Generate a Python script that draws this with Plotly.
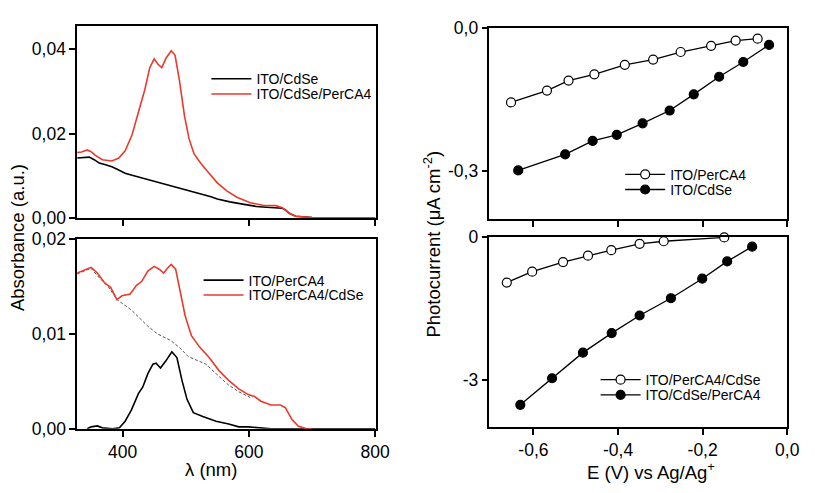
import plotly.graph_objects as go

# ---------------- data ----------------
# Top-left: absorbance spectra
wl_cdse = [328, 340, 347, 355, 363, 373, 383, 393, 404, 415, 425, 436, 446, 456, 466, 477, 487,
           498, 508, 518, 529, 540, 550, 560, 570, 581, 591, 602, 612, 622, 633, 643, 653, 658,
           664, 674, 690, 700, 750, 800]
abs_cdse = [0.0142, 0.0143, 0.0144, 0.0138, 0.0130, 0.0126, 0.0121, 0.0114, 0.0106, 0.0101, 0.0097,
            0.0093, 0.0089, 0.0085, 0.0081, 0.0077, 0.0072, 0.0068, 0.0063, 0.0060, 0.0056, 0.0050,
            0.0045, 0.0041, 0.0038, 0.0035, 0.0032, 0.0029, 0.0027, 0.0026, 0.0025, 0.0024, 0.0023,
            0.0019, 0.0011, 0.0004, 0.0002, 0.0001, 0.0000, 0.0000]

wl_cdse_perca4 = [328, 335, 344, 350, 357, 368, 383, 394, 404, 415, 427, 435, 443, 450, 456, 462,
                  469, 477, 483, 490, 498, 505, 513, 524, 537, 550, 565, 581, 602, 622, 643, 653,
                  664, 674, 700, 750, 800]
abs_cdse_perca4 = [0.0155, 0.0156, 0.0161, 0.0157, 0.0148, 0.0138, 0.0135, 0.0142, 0.0159, 0.0197,
                   0.0261, 0.0303, 0.0356, 0.0377, 0.0364, 0.0356, 0.0379, 0.0396, 0.0386, 0.0326,
                   0.0242, 0.0189, 0.0152, 0.0129, 0.0106, 0.0083, 0.0064, 0.0049, 0.0036, 0.0030,
                   0.0029, 0.0024, 0.0011, 0.0004, 0.0001, 0.0000, 0.0000]

# Bottom-left
wl_perca4 = [344, 350, 360, 368, 384, 395, 404, 414, 425, 432, 440, 448, 453, 460, 468, 478, 486,
             494, 502, 512, 527, 548, 568, 584, 599, 614, 635, 700, 800]
abs_perca4 = [0.0000, 0.0002, 0.0003, 0.0001, 0.0000, 0.0001, 0.0008, 0.0020, 0.0037, 0.0044,
              0.0058, 0.0068, 0.0069, 0.0064, 0.0071, 0.0081, 0.0075, 0.0051, 0.0031, 0.0017,
              0.0013, 0.0008, 0.0005, 0.0002, 0.0002, 0.0001, 0.0000, 0.0000, 0.0000]

wl_perca4_cdse = [328, 343, 350, 360, 371, 381, 391, 399, 412, 422, 430, 440, 450, 458, 465, 471,
                  477, 484, 490, 499, 509, 522, 537, 553, 568, 584, 599, 609, 619, 635, 650, 658,
                  668, 678, 691, 700]
abs_perca4_cdse = [0.0164, 0.0168, 0.0170, 0.0164, 0.0154, 0.0149, 0.0136, 0.0140, 0.0142, 0.0151,
                   0.0155, 0.0166, 0.0171, 0.0168, 0.0164, 0.0169, 0.0173, 0.0168, 0.0147, 0.0119,
                   0.0098, 0.0086, 0.0075, 0.0061, 0.0051, 0.0042, 0.0036, 0.0034, 0.0029, 0.0025,
                   0.0025, 0.0022, 0.0010, 0.0003, 0.0000, 0.0000]

wl_diff = [328, 350, 363, 378, 391, 414, 440, 455, 476, 491, 504, 522, 532, 548, 568, 584, 602]
abs_diff = [0.0163, 0.0169, 0.0159, 0.0149, 0.0136, 0.0125, 0.0108, 0.0100, 0.0093, 0.0085, 0.0076,
            0.0071, 0.0068, 0.0058, 0.0046, 0.0039, 0.0033]

# Top-right: photocurrent
e_perca4 = [-0.653, -0.568, -0.517, -0.456, -0.384, -0.317, -0.252, -0.180, -0.122, -0.070]
i_perca4 = [-0.156, -0.131, -0.110, -0.097, -0.077, -0.066, -0.050, -0.037, -0.026, -0.022]
e_cdse = [-0.636, -0.525, -0.460, -0.403, -0.342, -0.278, -0.221, -0.161, -0.104, -0.043]
i_cdse = [-0.299, -0.265, -0.237, -0.224, -0.200, -0.173, -0.139, -0.102, -0.071, -0.035]

# Bottom-right
e_perca4_cdse = [-0.663, -0.603, -0.530, -0.471, -0.416, -0.349, -0.292, -0.149]
i_perca4_cdse = [-0.953, -0.725, -0.523, -0.389, -0.275, -0.141, -0.087, -0.007]
e_cdse_perca4 = [-0.631, -0.556, -0.483, -0.415, -0.349, -0.275, -0.201, -0.142, -0.083]
i_cdse_perca4 = [-3.517, -2.960, -2.423, -2.013, -1.644, -1.282, -0.872, -0.510, -0.201]

# tick labels
abs_top_ticks = [0, 0.02, 0.04]
abs_top_labels = ["0,00", "0,02", "0,04"]
abs_bot_ticks = [0, 0.01, 0.02]
abs_bot_labels = ["0,00", "0,01", "0,02"]
wl_ticks = [400, 600, 800]
e_ticks = [-0.6, -0.4, -0.2, 0.0]
e_labels = ["-0,6", "-0,4", "-0,2", "0,0"]
pc_top_ticks = [0, -0.3]
pc_top_labels = ["0,0", "-0,3"]
pc_bot_ticks = [0, -3]
pc_bot_labels = ["0", "-3"]

# ---------------- figure ----------------
W, H = 815, 493
RED = "#ea3a2c"
FONT = "Liberation Sans, Arial, sans-serif"


def px_x(p):
    return p / W


def px_y(p):
    return 1 - p / H


fig = go.Figure()

LW = 1.6
fig.add_trace(go.Scatter(x=wl_cdse, y=abs_cdse, mode="lines", name="ITO/CdSe",
                         line=dict(color="black", width=LW), xaxis="x", yaxis="y", legend="legend"))
fig.add_trace(go.Scatter(x=wl_cdse_perca4, y=abs_cdse_perca4, mode="lines", name="ITO/CdSe/PerCA4",
                         line=dict(color=RED, width=LW), xaxis="x", yaxis="y", legend="legend2"))

fig.add_trace(go.Scatter(x=wl_diff, y=abs_diff, mode="lines", showlegend=False,
                         line=dict(color="#555555", width=1, dash="3px,2px"), xaxis="x2", yaxis="y2"))
fig.add_trace(go.Scatter(x=wl_perca4, y=abs_perca4, mode="lines", name="ITO/PerCA4",
                         line=dict(color="black", width=LW), xaxis="x2", yaxis="y2", legend="legend3"))
fig.add_trace(go.Scatter(x=wl_perca4_cdse, y=abs_perca4_cdse, mode="lines", name="ITO/PerCA4/CdSe",
                         line=dict(color=RED, width=LW), xaxis="x2", yaxis="y2", legend="legend4"))

open_marker = dict(symbol="circle", size=9, color="white", line=dict(color="black", width=1.2))
filled_marker = dict(symbol="circle", size=9, color="black", line=dict(color="black", width=1.2))

fig.add_trace(go.Scatter(x=e_perca4, y=i_perca4, mode="lines+markers", name="ITO/PerCA4",
                         line=dict(color="black", width=1.3), marker=open_marker, cliponaxis=False,
                         xaxis="x3", yaxis="y3", legend="legend5"))
fig.add_trace(go.Scatter(x=e_cdse, y=i_cdse, mode="lines+markers", name="ITO/CdSe",
                         line=dict(color="black", width=1.3), marker=filled_marker, cliponaxis=False,
                         xaxis="x3", yaxis="y3", legend="legend6"))

fig.add_trace(go.Scatter(x=e_perca4_cdse, y=i_perca4_cdse, mode="lines+markers", name="ITO/PerCA4/CdSe",
                         line=dict(color="black", width=1.3), marker=open_marker, cliponaxis=False,
                         xaxis="x4", yaxis="y4", legend="legend7"))
fig.add_trace(go.Scatter(x=e_cdse_perca4, y=i_cdse_perca4, mode="lines+markers", name="ITO/CdSe/PerCA4",
                         line=dict(color="black", width=1.3), marker=filled_marker, cliponaxis=False,
                         xaxis="x4", yaxis="y4", legend="legend8"))

axis_common = dict(showline=True, linecolor="black", linewidth=1.5, mirror=True, showgrid=False,
                   zeroline=False, ticks="outside", ticklen=6, tickwidth=1.5, tickcolor="black",
                   tickfont=dict(family=FONT, size=17.5, color="black"))

left_dom = [px_x(78.5), px_x(383)]
right_dom = [px_x(498), px_x(801)]

fig.update_layout(
    width=W, height=H,
    margin=dict(l=0, r=0, t=0, b=0),
    paper_bgcolor="white", plot_bgcolor="white",
    font=dict(family=FONT, color="black"),
    xaxis=dict(axis_common, domain=left_dom, anchor="y", range=[328, 802],
               tickvals=wl_ticks, showticklabels=False),
    yaxis=dict(axis_common, domain=[px_y(216.7), px_y(17)], anchor="x", range=[0, 0.0454],
               tickvals=abs_top_ticks, ticktext=abs_top_labels),
    xaxis2=dict(axis_common, domain=left_dom, anchor="y2", range=[328, 802],
                tickvals=wl_ticks, ticktext=[str(v) for v in wl_ticks]),
    yaxis2=dict(axis_common, domain=[px_y(436.5), px_y(238.5)], anchor="x2", range=[0, 0.02],
                tickvals=abs_bot_ticks, ticktext=abs_bot_labels),
    xaxis3=dict(axis_common, domain=right_dom, anchor="y3", range=[-0.704, 0],
                tickvals=e_ticks, showticklabels=False),
    yaxis3=dict(axis_common, domain=[px_y(218.3), px_y(19)], anchor="x3", range=[-0.402, 0],
                tickvals=pc_top_ticks, ticktext=pc_top_labels),
    xaxis4=dict(axis_common, domain=right_dom, anchor="y4", range=[-0.704, 0],
                tickvals=e_ticks, ticktext=e_labels),
    yaxis4=dict(axis_common, domain=[px_y(435), px_y(236.7)], anchor="x4", range=[-3.99, 0],
                tickvals=pc_bot_ticks, ticktext=pc_bot_labels),
)

# one legend per entry so each row can be placed where the reference has it
leg_common = dict(bgcolor="rgba(0,0,0,0)", borderwidth=0, font=dict(family=FONT, size=14, color="black"),
                  xanchor="left", yanchor="middle", itemwidth=40)
leg_rows = {
    "legend": (260, 72), "legend2": (260, 88),
    "legend3": (252, 282), "legend4": (252, 297.5),
    "legend5": (681, 171.7), "legend6": (681, 187.5),
    "legend7": (656, 385.7), "legend8": (656, 401.5),
}
fig.update_layout({name: dict(leg_common, x=px_x(tx - 50), y=px_y(ty)) for name, (tx, ty) in leg_rows.items()})

title_font = dict(family=FONT, size=18.5, color="black")
fig.add_annotation(text="Absorbance (a.u.)", x=px_x(18), y=px_y(237), xref="paper", yref="paper",
                   textangle=-90, showarrow=False, font=title_font, xanchor="center", yanchor="middle")
fig.add_annotation(text="λ (nm)", x=px_x(215), y=px_y(479), xref="paper", yref="paper",
                   showarrow=False, font=title_font, xanchor="center", yanchor="middle")
fig.add_annotation(text="Photocurrent (μA cm<sup>-2</sup>)", x=px_x(440), y=px_y(244), xref="paper",
                   yref="paper", textangle=-90, showarrow=False, font=title_font,
                   xanchor="center", yanchor="middle")
fig.add_annotation(text="E (V) vs Ag/Ag<sup>+</sup>", x=px_x(662), y=px_y(481), xref="paper",
                   yref="paper", showarrow=False, font=title_font, xanchor="center", yanchor="middle")

fig.write_html("out.html", post_script="document.body.style.margin='0px';",
               config={"displayModeBar": False})
